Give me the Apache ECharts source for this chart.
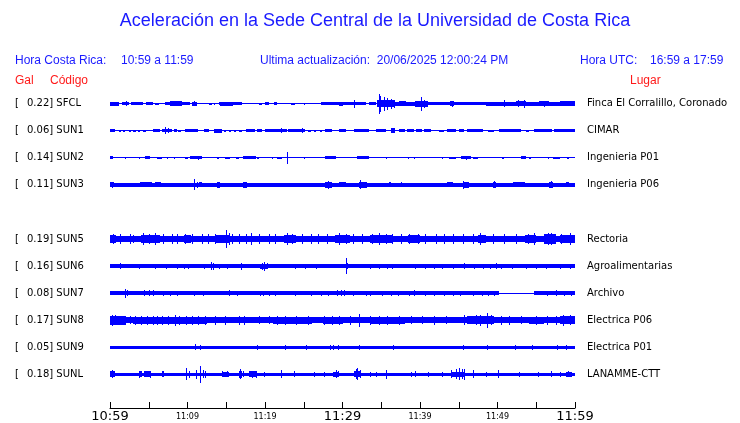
<!DOCTYPE html>
<html><head><meta charset="utf-8">
<script src="https://cdn.jsdelivr.net/npm/echarts@6/dist/echarts.min.js"></script>
<style>html,body{margin:0;padding:0;background:#fff}#c{width:740px;height:423px}</style>
</head><body><div id="c"></div>
<script>
// ---------- DATA ----------
const stations = ['SFCL','SUN1','SUN2','SUN3','SUN4','SUN5','SUN6','SUN7','SUN8','SUN9','SUNL'];
const galValues = ['0.22','0.06','0.14','0.11','','0.19','0.16','0.08','0.17','0.05','0.18'];
const places = ['Finca El Corralillo, Coronado','CIMAR','Ingenieria P01','Ingenieria P06','','Rectoria','Agroalimentarias','Archivo','Electrica P06','Electrica P01','LANAMME-CTT'];
const tickMinutes = [0,10,20,30,40,50,60];
const tickLabels = ['10:59','11:09','11:19','11:29','11:39','11:49','11:59'];
const bigTicks = ['10:59','11:29','11:59'];

// envelope blocks: [startMinute, endMinute, halfAmplitude]; spikes: [minute, halfAmplitude]
const sfclBlocks = [[0,60,0.5],[0,1.1,2],[1.5,2.5,1.5],[2.7,4.3,1.5],[4.6,5.5,1.5],[5.8,6.3,1],[7.1,10.3,1.5],[7.8,9.3,2.3],[10.6,11.2,2],[12.8,13.1,1],[13.4,13.6,1],[14,17,1.5],[14.2,15.9,2],[19.2,19.6,1],[20,20.5,1.5],[21.1,21.6,1.5],[22.2,22.6,0.8],[23.3,23.9,1],[25,25.2,1],[26.3,26.5,0.8],[27.2,33,1.6],[29.5,30,2],[33.4,34.3,1.6],[34.5,36.8,3.5],[36.8,39.4,2],[37.3,38.2,2.5],[39.4,41,3],[41,48.5,1.7],[43.9,44.4,2.3],[48.5,60,2],[52.4,53.7,2.8],[55.4,56.7,2.3],[58,60,2.2]];
const sfclSpikes = [[2,2.5],[8.5,2.8],[10.9,2.5],[31.5,4],[34.7,10],[34.9,8],[35.3,7],[35.8,6],[36.2,5],[36.6,4],[40.1,7],[40.5,4],[44.1,3],[50.9,3.5],[53.4,4],[52.7,3.5],[56,3]];

const sun1Blocks = [[0,60,0.5],[0,0.6,1.5],[1.2,1.4,1],[1.7,1.9,1],[2.5,2.7,1],[3,3.3,1],[3.6,3.9,1],[4.3,4.7,1],[5.6,6.5,1.5],[6.7,8,1.8],[8.2,8.6,1.3],[8.8,9.2,1],[9.7,11.4,1.5],[12.1,12.8,1.3],[13.4,14.4,2],[14.7,15,1],[15.3,15.6,1],[16,16.3,1],[16.7,17,1],[17.5,18.7,1.5],[19,19.6,1.3],[20,21.3,1.3],[21.3,22.8,1.8],[23,25.2,1.8],[25.6,25.9,1],[26.3,26.6,1],[27.1,27.4,1],[27.8,28.6,1.3],[29.5,30.4,1.3],[31.5,33.4,1.5],[34.3,35.6,1.3],[36.2,36.8,2.3],[37.3,38,1.3],[38.3,39.2,1.3],[39.5,40.3,1.3],[40.5,41.4,1.3],[42.5,43.1,1],[43.5,44.6,1.3],[45,45.7,1.3],[46.1,48.1,1.3],[48.8,49.6,1],[50.2,53,1.6],[53.7,54.1,1],[54.7,57,1.4],[57.3,60,1.5]];
const sun1Spikes = [[7.1,3.3],[7.5,2.5],[22,2.7],[24.8,2.5],[36.5,2.8]];

const sun2Blocks = [[0,60,0.5],[0,0.4,1.3],[1.9,2,1],[3.7,3.8,1],[4.5,5.2,1.4],[6,6.7,1.2],[7.3,7.5,1.2],[8.2,8.4,1],[9.7,10.1,1],[10.3,11.9,1.3],[13.8,14,1],[14.9,15.5,1.2],[16.2,16.6,1],[17.2,18.8,1.3],[19,19.2,1],[20.9,21,0.8],[21.6,22.2,0.8],[25,25.2,0.8],[27.8,29.1,1.3],[31.9,33.4,1.4],[35.6,35.8,1],[38.4,38.6,0.8],[39.2,39.4,1],[42.8,43,0.8],[43.8,44.6,1.2],[45.3,46.6,1.3],[46.8,47.5,1.1],[50.6,50.8,0.8],[53,53.7,1.3],[54.1,54.3,1],[56.5,56.7,1],[57.2,58,1.1],[59,59.2,1]];
const sun2Spikes = [[11.4,2.2],[22.8,6],[45.9,2]];

const sun3Blocks = [[0,60,2],[0,0.5,2.5],[3.9,5.4,2.5],[5.8,6.6,2.5],[7.1,7.3,2.3],[8.4,8.6,2.3],[9.7,9.9,2.3],[11.5,11.9,2.5],[13.8,14.2,3],[14.8,17,2.3],[17.2,17.7,3],[18.3,20.7,2.3],[24.1,24.4,2.3],[25.4,25.6,2.3],[26.2,26.4,2.3],[27.8,28.7,3.2],[29.5,30.4,2.5],[32.1,33.2,3.2],[34.3,34.5,2.3],[36,36.2,2.5],[37.5,37.7,2.5],[39.2,39.4,2.3],[40.5,40.7,2.3],[41.8,42,2.3],[43.5,44.3,2.5],[45.5,46.3,3],[49.4,49.8,3],[50.9,51.1,2.3],[52,53.5,2.5],[54.3,54.5,2.3],[56.7,57.1,3],[57.8,58,2.3],[58.8,59.2,2.5]];
const sun3Spikes = [[0.2,3],[10.9,5.5],[11.2,3],[28.1,4],[32.2,4.5],[45.6,3.8],[49.6,3.5],[56.9,3.5]];

const sun5Blocks = [[0,60,3.4],[0,0.8,4],[4,6.5,4.3],[9.5,10.5,3.8],[13.5,15.5,3.8],[22.5,24,4.3],[29,31,3.8],[33.5,36.5,4.3],[38.5,40,3.8],[47.5,48.5,3.8],[53.5,55,4.3],[56,57.5,4.5],[58,60,4.3]];
const sun5Spikes = [[0.4,4.5],[1.3,4.5],[2.6,4.5],[3,4],[4.3,5.5],[5,5],[5.8,5.5],[6.9,4.5],[8,4.5],[8.6,5],[9.7,4.5],[10.6,5],[11.9,4.5],[12.7,5],[13.6,4.5],[15,9],[15.3,6],[15.7,5],[16.6,4.5],[17.5,5],[18.2,5.5],[19.2,4.5],[20.5,4.5],[21.3,5],[22.8,5.5],[23.5,5],[24.8,4.5],[25.9,4.5],[26.9,5],[28,4.5],[29.5,5.5],[30.4,4.5],[31.3,5],[32.5,4.5],[33.8,5],[34.7,5.5],[35.6,5],[36.4,5],[37.5,4.5],[38.6,5],[39.7,4.5],[40.7,4.5],[42,4.5],[43.1,4.5],[44.2,5],[45.5,4.5],[46.8,4.5],[47.8,5.5],[49.4,4.5],[50.9,4.5],[52.4,4.5],[53.9,5],[54.7,5.5],[56.5,6],[56.9,5.5],[58.2,5],[59.3,5.5]];

const sun6Blocks = [[0,60,1.8],[19.4,20.3,2.5]];
const sun6Spikes = [[1.3,3],[3.7,2.5],[5.8,2.5],[7.2,2.5],[8.6,2.5],[9.5,2.5],[10,2.5],[12.1,2.5],[13,4],[13.3,3.5],[14,2.5],[15.1,2.5],[16.9,3.5],[19.6,3.5],[19.9,4.5],[20.2,3],[23.9,2.5],[25.1,2.5],[26.6,2.5],[30.4,8],[30.6,3],[33.6,2.5],[34.7,2.5],[35.8,2.5],[36.4,2.5],[39.4,2.5],[40.7,2.5],[41.8,2.5],[42.9,2.5],[44.2,2.5],[45.7,3.3],[47,2.5],[48.1,2.5],[49,2.5],[49.8,3],[50.4,2.5],[51.9,2.5],[53.7,2.5],[55,2.5],[56.3,2.5],[58,2.5],[59.3,2.5]];

const sun7Blocks = [[0,60,0.5],[0,50.2,1.7],[54.7,60,1.7],[4.3,5.8,2],[15.1,15.7,2.2],[23.7,24.1,2.2],[29.1,30.4,2.3],[47.6,50,2],[56.5,58.5,2]];
const sun7Spikes = [[1.9,4.5],[2.2,3],[4.4,2.8],[5,2.8],[5.5,2.8],[6.9,2.5],[7.8,2.5],[8.6,2.5],[10.8,2.5],[12,2.5],[15.4,2.8],[16.4,2.5],[19.4,2.5],[19.8,2.5],[20.5,2.5],[21.3,2.5],[23.9,2.5],[25.9,2.5],[27.2,2.5],[28.1,2.5],[29.3,3],[29.8,3.3],[30.2,2.8],[31.3,2.5],[33,2.5],[33.6,2.5],[35.1,2.5],[36.2,2.5],[37.2,2.5],[38.6,2.5],[39.2,3],[40.7,2.5],[41.8,2.5],[43.1,2.5],[44.2,2.5],[45.2,2.5],[46.8,2.5],[48,2.5],[48.8,2.5],[49.6,2.5],[56.4,2.5],[57.5,3],[58.6,2.5],[59.5,2.5]];

const sun8Blocks = [[0,60,3.1],[0,2,4.5],[3,12.5,3.5],[21,26,3.3],[27.5,30,3.5],[33.5,38,3.5],[46,49.5,4],[54,56,3.3],[58,60,3.8]];
const sun8Spikes = [[0.2,5.5],[0.6,5],[1.2,4.5],[2.6,4],[3.2,4.5],[4,4.5],[4.8,4.5],[5.5,4.5],[6.1,4.5],[6.7,4.5],[7.5,4.5],[8.4,5.5],[8.9,4.5],[9.8,4.5],[10.6,4.5],[11.3,4.5],[12.3,4.5],[13.6,4.5],[14.9,4.5],[16.6,4.5],[17.3,4.5],[19.2,4],[20.5,4],[21.6,4.5],[22.6,4.5],[24,4.5],[25.5,4.5],[27.6,4.5],[28.6,4.5],[29.5,4.5],[31,4.5],[32.1,6.7],[33.5,4.5],[34.7,4.5],[35.8,4.5],[37.3,4.5],[38.8,4],[40.3,4],[41.8,4.5],[43.3,4],[45.7,5],[47.2,5],[47.8,5.5],[48.7,7.5],[49.2,5],[50.5,4.5],[51.5,4.5],[53,4],[55,4.5],[56.4,4.5],[57.5,4.5],[58.4,5.5],[59.3,5]];

const sun9Blocks = [[0,60,1.6]];
const sun9Spikes = [[11,3],[11.6,2.5],[19,2.2],[22.6,2.2],[25.3,2.2],[28.4,2.3],[28.8,2.5],[29.4,2.2],[32.1,2.7],[36.5,2.2],[45.5,2.5],[48.7,2.2],[52.3,2.2],[54.4,2.2],[57.7,2.3],[58.8,2.3]];

const sunlBlocks = [[0,60,1.8],[0,0.6,3],[3.7,4.1,3],[4.4,5.2,3],[6.7,7,3],[14.4,15.3,2.5],[16.6,17,3.5],[17.9,18.8,3],[28.8,29.5,2.5],[31.5,32.3,3],[44,45.7,2.5],[58.8,59.6,2.8]];
const sunlSpikes = [[0.2,4],[3.8,3.5],[5.2,3.5],[6.8,3],[9.8,6],[10.2,3.5],[11.1,4.5],[11.6,8.5],[12,4],[12.3,3.5],[14.5,3],[15.1,3],[16.8,5],[17.2,3],[18.3,3.5],[18.8,3.5],[19.9,2.5],[22,4],[23.7,3],[26.3,2.5],[27.6,2.5],[29.1,4],[29.4,3],[31.7,5],[31.9,6],[32.2,4],[33.6,2.5],[34.3,2.5],[35.6,4.5],[38.9,2.5],[39.3,3],[41,2.5],[42.9,2.5],[44,4],[44.6,5],[45,6],[45.4,5],[45.7,5.5],[46.8,4],[48.5,2.5],[50,4],[52.8,2.5],[55.2,2.5],[56.9,3],[58,2.5],[59.1,3]];

// ---------- BUILD ----------
const ROW_UNITS = 27; // amplitude units per row spacing
const TRACE = '#0000ff';
const blockSets = {SFCL:sfclBlocks,SUN1:sun1Blocks,SUN2:sun2Blocks,SUN3:sun3Blocks,SUN5:sun5Blocks,SUN6:sun6Blocks,SUN7:sun7Blocks,SUN8:sun8Blocks,SUN9:sun9Blocks,SUNL:sunlBlocks};
const spikeSets = {SFCL:sfclSpikes,SUN1:sun1Spikes,SUN2:sun2Spikes,SUN3:sun3Spikes,SUN5:sun5Spikes,SUN6:sun6Spikes,SUN7:sun7Spikes,SUN8:sun8Spikes,SUN9:sun9Spikes,SUNL:sunlSpikes};
const blockData = [], spikeData = [];
stations.forEach((s, i) => {
  (blockSets[s] || []).forEach(b => blockData.push([i, b[0], b[1], b[2]]));
  (spikeSets[s] || []).forEach(p => spikeData.push([i, p[0], p[1]]));
});

function renderBlock(params, api) {
  const row = api.value(0), t0 = api.value(1), t1 = api.value(2), h = api.value(3);
  const a = api.coord([t0, row]), b = api.coord([t1, row]);
  const band = api.size([0, 1])[1];
  const hp = Math.max(h / ROW_UNITS * band, 0.5);
  const y0 = Math.round(a[1] - hp), y1 = Math.round(a[1] + hp);
  const x0 = Math.round(a[0]), x1 = Math.max(Math.round(b[0]), x0 + 1);
  return {type: 'rect', shape: {x: x0, y: y0, width: x1 - x0, height: Math.max(y1 - y0, 1)}, style: {fill: TRACE}};
}
function renderSpike(params, api) {
  const row = api.value(0), t = api.value(1), h = api.value(2);
  const p = api.coord([t, row]);
  const band = api.size([0, 1])[1];
  const hp = h / ROW_UNITS * band;
  const y0 = Math.round(p[1] - hp), y1 = Math.round(p[1] + hp);
  return {type: 'rect', shape: {x: Math.round(p[0]), y: y0, width: 1, height: y1 - y0}, style: {fill: TRACE}};
}

const chart = echarts.init(document.getElementById('c'), null, {renderer: 'canvas'});
const BLUE = '#1a1aff', RED = '#ff1a1a';
const hdr = (text, x, y, color, size, family) => ({type: 'text', x: x, y: y, silent: true,
  style: {text: text, fill: color, font: (size || 12) + 'px ' + (family || '"Liberation Sans", Arial, sans-serif'), verticalAlign: 'middle'}});

chart.setOption({
  animation: false,
  backgroundColor: '#ffffff',
  grid: {left: 110, right: 165, top: 90, height: 298, containLabel: false},
  xAxis: {
    type: 'value', min: 0, max: 60, interval: 5, offset: 20,
    axisLine: {show: true, lineStyle: {color: '#000', width: 1}},
    axisTick: {show: true, inside: true, length: 6, lineStyle: {color: '#000', width: 1}},
    splitLine: {show: false},
    axisLabel: {
      show: true, margin: 1, showMinLabel: true, showMaxLabel: true, hideOverlap: false,
      formatter: v => {
        const k = tickMinutes.indexOf(v);
        if (k < 0) return '';
        const lbl = tickLabels[k];
        return bigTicks.indexOf(lbl) >= 0 ? '{big|' + lbl + '}' : '{small|' + lbl + '}';
      },
      rich: {
        big: {fontFamily: '"DejaVu Sans", sans-serif', fontSize: 13, color: '#000', lineHeight: 15},
        small: {fontFamily: '"DejaVu Sans", sans-serif', fontSize: 8, color: '#000', lineHeight: 15}
      }
    }
  },
  yAxis: [{
    type: 'category', data: stations, inverse: true,
    axisLine: {show: false}, axisTick: {show: false}, splitLine: {show: false},
    axisLabel: {
      margin: 95, align: 'left', color: '#000',
      fontFamily: '"DejaVu Sans", sans-serif', fontSize: 10,
      formatter: (value, idx) => galValues[idx] ? '{br|[}' + galValues[idx] + '] ' + value : '',
      rich: {br: {width: 12, fontFamily: '"DejaVu Sans", sans-serif', fontSize: 10, color: '#000'}}
    }
  }, {
    type: 'category', data: stations, inverse: true, position: 'right',
    axisLine: {show: false}, axisTick: {show: false}, splitLine: {show: false},
    axisLabel: {
      margin: 12, align: 'left', color: '#000',
      fontFamily: '"DejaVu Sans", sans-serif', fontSize: 10,
      formatter: (value, idx) => places[idx]
    }
  }],
  series: [
    {type: 'custom', name: 'envelope', xAxisIndex: 0, yAxisIndex: 0, silent: true,
     encode: {x: [1, 2], y: 0}, renderItem: renderBlock, data: blockData, clip: false},
    {type: 'custom', name: 'spikes', xAxisIndex: 0, yAxisIndex: 0, silent: true,
     encode: {x: 1, y: 0}, renderItem: renderSpike, data: spikeData, clip: false}
  ],
  graphic: [
    {type: 'text', x: 375, y: 21, silent: true,
     style: {text: 'Aceleración en la Sede Central de la Universidad de Costa Rica', fill: BLUE, align: 'center', verticalAlign: 'middle', font: '18px "Liberation Sans", Arial, sans-serif'}},
    hdr('Hora Costa Rica:', 15, 61, BLUE),
    hdr('10:59 a 11:59', 121, 61, BLUE),
    hdr('Ultima actualización:  20/06/2025 12:00:24 PM', 260, 61, BLUE),
    hdr('Hora UTC:', 580, 61, BLUE),
    hdr('16:59 a 17:59', 650, 61, BLUE),
    hdr('Gal', 15, 81, RED),
    hdr('Código', 50, 81, RED),
    hdr('Lugar', 630, 81, RED)
  ]
});
</script>
</body></html>
